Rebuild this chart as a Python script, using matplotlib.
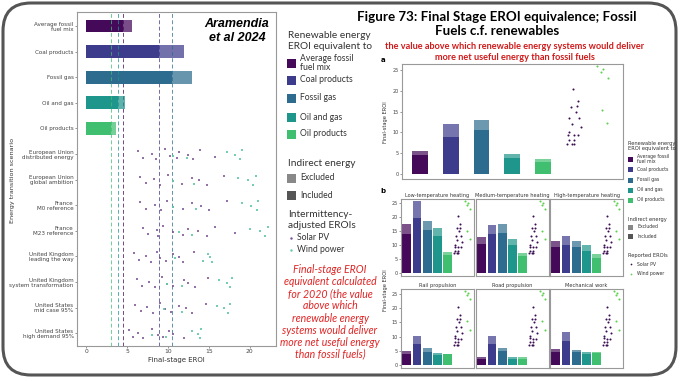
import numpy as np
import matplotlib
matplotlib.use("Agg")
from matplotlib import pyplot as plt
from matplotlib.patches import FancyBboxPatch, Rectangle

W, H = 680, 381

# fossil fuel final-stage EROI (indirect energy included / excluded)
fuels = ["Average fossil\nfuel mix", "Coal products", "Fossil gas", "Oil and gas", "Oil products"]
fuel_colors = ["#45095a", "#3d3b8c", "#2e6c8f", "#1f968b", "#3fbf6f"]
incl = [4.5, 8.9, 10.5, 3.9, 3.0]
excl = [5.6, 12.0, 13.0, 4.8, 3.7]

scenarios = ["European Union\ndistributed energy", "European Union\nglobal ambition",
             "France\nM0 reference", "France\nM23 reference",
             "United Kingdom\nleading the way", "United Kingdom\nsystem transformation",
             "United States\nmid case 95%", "United States\nhigh demand 95%"]
solar_scen = [
    [6.4, 7.0, 8.0, 8.6, 9.6, 10.2, 11.1, 11.3, 12.5, 13.1, 13.9, 15.7],
    [6.6, 7.3, 8.3, 9.0, 10.0, 10.6, 11.7, 13.0, 13.8, 14.8, 16.8],
    [6.6, 7.3, 8.4, 9.1, 9.9, 10.6, 11.8, 13.0, 14.1, 15.0, 17.2],
    [7.0, 7.6, 8.7, 8.8, 9.4, 10.6, 11.8, 12.4, 13.7, 14.8, 15.7, 18.2],
    [5.9, 6.5, 7.3, 7.9, 8.7, 9.0, 9.8, 10.6, 11.3, 11.8, 13.2],
    [6.2, 6.8, 7.7, 8.4, 9.3, 9.9, 10.6, 12.0, 12.4, 13.3, 14.9],
    [6.0, 6.7, 7.4, 8.2, 9.0, 9.6, 10.4, 11.3, 12.2, 12.9, 14.6],
    [5.2, 5.7, 6.3, 7.0, 8.0, 8.8, 9.4, 10.1, 10.6, 12.0],
]
wind_scen = [
    [10.6, 12.3, 17.2, 18.2, 18.8, 19.0],
    [10.6, 13.2, 18.6, 19.8, 20.4, 20.7],
    [10.6, 13.4, 19.0, 20.2, 20.9, 21.0],
    [11.3, 12.9, 20.0, 21.3, 21.9, 22.2],
    [10.9, 14.3, 14.9, 15.2, 15.4],
    [9.9, 11.7, 16.3, 17.2, 17.6, 17.8],
    [9.5, 11.7, 16.0, 16.8, 17.3, 17.6],
    [8.1, 9.8, 13.0, 13.7, 13.9, 14.1],
]

# end-use panels
end_uses = ["Low-temperature heating", "Medium-temperature heating", "High-temperature heating",
            "Rail propulsion", "Road propulsion", "Mechanical work"]
b_incl = [[14.2, 19.8, 15.6, 13.4, 6.5], [10.6, 14.1, 14.4, 10.0, 6.1], [9.4, 10.0, 9.4, 8.2, 5.6],
          [4.0, 7.5, 4.7, 3.5, 4.0], [2.3, 7.6, 5.0, 2.2, 2.4], [4.8, 8.6, 4.7, 4.0, 4.2]]
b_excl = [[17.5, 26.0, 18.8, 16.1, 7.6], [13.0, 17.4, 17.7, 12.2, 7.3], [11.7, 13.5, 11.5, 10.0, 6.8],
          [5.0, 10.2, 5.9, 4.3, 4.1], [2.8, 10.2, 6.2, 2.8, 2.8], [5.7, 11.6, 5.4, 4.6, 4.5]]

# reported EROIs
solar_rep = [20.4, 17.6, 16.3, 16.2, 15.0, 13.5, 13.4, 12.1, 11.3, 10.2, 9.4, 9.3, 9.3, 8.1, 8.1, 7.2, 7.2, 7.2]
solar_dx = [-0.02, 0.13, 0.10, -0.07, 0.07, -0.14, 0.17, -0.06, 0.24, -0.16, -0.18, 0.02, 0.15, -0.16, 0.02, -0.22, -0.05, 0.0]
wind_rep = [25.8, 25.2, 24.4, 23.0, 15.3, 12.3]
wind_dx = [-0.23, -0.05, -0.1, 0.13, -0.06, 0.1]

jit = [-0.12, 0.14, -0.02, 0.2, -0.18, 0.06, 0.16, -0.08, 0.02, 0.2, -0.16, 0.1]

fig = plt.figure(figsize=(W/100, H/100), dpi=100)
fig.patch.set_facecolor("white")

def px_axes(x0, y0, x1, y1):
    return fig.add_axes([x0/W, 1-y1/H, (x1-x0)/W, (y1-y0)/H])

def style(ax, fs=3.5):
    for s in ax.spines.values():
        s.set_color("#999999")
        s.set_linewidth(0.8)
    ax.tick_params(labelsize=fs, length=1.5, width=0.4, pad=1, colors="#444444")

# ---------------- left chart
ax = px_axes(77, 12, 276, 346)
style(ax, 4.3)
nf = len(fuels)
yf = np.arange(nf)
for i in range(nf):
    ax.barh(yf[i], excl[i], height=0.5, color=fuel_colors[i], alpha=0.72, lw=0)
    ax.barh(yf[i], incl[i], height=0.5, color=fuel_colors[i], lw=0)
    ax.axvline(incl[i], color=fuel_colors[i], lw=0.7, ls=(0, (4, 2.5)), alpha=0.75, zorder=1)
for k in range(len(scenarios)):
    yc = nf + k
    sv = solar_scen[k]
    wv = wind_scen[k]
    ax.scatter(sv, [yc + jit[j % len(jit)] for j in range(len(sv))], s=2.5, marker="s",
               color="#7a4e90", alpha=0.8, lw=0, zorder=3)
    ax.scatter(wv, [yc + jit[(j + 5) % len(jit)] for j in range(len(wv))], s=2.5, marker="s",
               color="#64caa6", alpha=0.9, lw=0, zorder=3)
ax.set_yticks(np.arange(nf + len(scenarios)))
ax.set_yticklabels(fuels + scenarios, fontsize=4.1, linespacing=1.0)
ax.set_xticks([0, 5, 10, 15, 20])
ax.set_xlim(-1.1, 23.2)
ax.set_ylim(12.5, -0.55)
ax.set_xlabel("Final-stage EROI", fontsize=5, labelpad=1.5, color="#333333")

# ---------------- panel a
def draw_panel(ax, inc, exc, bw, spread):
    for i in range(len(inc)):
        ax.bar(i, exc[i], width=bw, color=fuel_colors[i], alpha=0.7, lw=0)
        ax.bar(i, inc[i], width=bw, color=fuel_colors[i], lw=0)
    ax.scatter([5 + d * spread for d in solar_dx], solar_rep, s=2.2, color="#3a0f52", lw=0, zorder=3)
    ax.scatter([6 + d * spread for d in wind_dx], wind_rep, s=2.2, color="#5fd04f", lw=0, zorder=3)
    ax.set_xticks([])

axa = px_axes(402, 64, 623, 179)
style(axa)
draw_panel(axa, incl, excl, 0.51, 1.0)
axa.set_xlim(-0.59, 6.61)
axa.set_ylim(-1.2, 26.4)
axa.set_yticks([0, 5, 10, 15, 20, 25])

cols = [(401, 474), (476, 549), (550, 623)]
rows = [(199, 276), (289, 368)]
for n in range(6):
    r, c = divmod(n, 3)
    axb = px_axes(cols[c][0], rows[r][0], cols[c][1], rows[r][1])
    style(axb)
    draw_panel(axb, b_incl[n], b_excl[n], 0.86, 1.6)
    axb.set_xlim(-0.55, 6.55)
    axb.set_ylim(-0.9, 26.6)
    axb.set_yticks([0, 5, 10, 15, 20, 25])
    if c > 0:
        axb.set_yticklabels([])
        axb.tick_params(left=False)
    axb.set_title(end_uses[n], fontsize=3.6, pad=1.5, color="#333333")

# ---------------- overlay: frame, titles, legends, notes
ov = fig.add_axes([0, 0, 1, 1], facecolor="none")
ov.set_xlim(0, W)
ov.set_ylim(H, 0)
ov.axis("off")
ov.add_patch(FancyBboxPatch((3, 3), 673, 372, boxstyle="round,pad=0,rounding_size=28",
                            fc="none", ec="#555555", lw=2.2))

ov.text(13, 180, "Energy transition scenario", rotation=90, fontsize=4.6, ha="center", va="center", color="#333333")
ov.text(237, 31, "Aramendia\net al 2024", fontsize=9, fontweight="bold", style="italic",
        ha="center", va="center", linespacing=1.25, family="Liberation Sans")

ov.text(497, 24, "Figure 73: Final Stage EROI equivalence; Fossil\nFuels c.f. renewables", fontsize=9.6,
        fontweight="bold", ha="center", va="center", family="Lato", linespacing=1.2)
ov.text(515, 52, "the value above which renewable energy systems would deliver\nmore net useful energy than fossil fuels",
        fontsize=6.6, fontweight="bold", ha="center", va="center", color="#d11a1a", family="Lato", linespacing=1.25)

# middle legend
lf = "Lato"
ov.text(288, 41, "Renewable energy\nEROI equivalent to", fontsize=7.3, va="center", family=lf, color="#333333", linespacing=1.15)
leg_y = [63, 80, 98, 117, 134]
for i in range(nf):
    ov.add_patch(Rectangle((287, leg_y[i] - 4.5), 9, 9, color=fuel_colors[i], lw=0))
    ov.text(300, leg_y[i], fuels[i], fontsize=6.2, va="center", family=lf, color="#333333", linespacing=1.0)
ov.text(288, 163, "Indirect energy", fontsize=7.3, va="center", family=lf, color="#333333")
for yy, lab, colr in [(178, "Excluded", "#888888"), (195, "Included", "#555555")]:
    ov.add_patch(Rectangle((287, yy - 4.5), 9, 9, color=colr, lw=0))
    ov.text(300, yy, lab, fontsize=6.2, va="center", family=lf, color="#333333")
ov.text(288, 220, "Intermittency-\nadjusted EROIs", fontsize=7.3, va="center", family=lf, color="#333333", linespacing=1.15)
for yy, lab, colr in [(238, "Solar PV", "#7a4e90"), (250, "Wind power", "#64caa6")]:
    ov.scatter([291], [yy], s=3, color=colr, lw=0)
    ov.text(297, yy, lab, fontsize=6.2, va="center", family=lf, color="#333333")
ov.text(330, 312, "Final-stage EROI\nequivalent calculated\nfor 2020 (the value\nabove which\nrenewable energy\nsystems would deliver\nmore net useful energy\nthan fossil fuels)",
        fontsize=7.6, style="italic", ha="center", va="center", color="#e02424", family=lf, linespacing=1.12)

# right legend
rf = 3.7
ov.text(628, 146, "Renewable energy\nEROI equivalent to", fontsize=rf, va="center", color="#333333", linespacing=1.2)
rl_y = [159, 169, 180, 190, 200]
for i in range(nf):
    ov.add_patch(Rectangle((628, rl_y[i] - 2.5), 5, 5, color=fuel_colors[i], lw=0))
    ov.text(637, rl_y[i], fuels[i], fontsize=3.3, va="center", color="#333333", linespacing=1.0)
ov.text(628, 219, "Indirect energy", fontsize=rf, va="center", color="#333333")
for yy, lab, colr in [(227, "Excluded", "#888888"), (236, "Included", "#555555")]:
    ov.add_patch(Rectangle((628, yy - 2.5), 5, 5, color=colr, lw=0))
    ov.text(637, yy, lab, fontsize=3.3, va="center", color="#333333")
ov.text(628, 256, "Reported EROIs", fontsize=rf, va="center", color="#333333")
for yy, lab, colr in [(264, "Solar PV", "#3a0f52"), (274, "Wind power", "#5fd04f")]:
    ov.scatter([630.5], [yy], s=1.5, color=colr, lw=0)
    ov.text(637, yy, lab, fontsize=3.3, va="center", color="#333333")

ov.text(383, 60, "a", fontsize=5, fontweight="bold", ha="center", va="center")
ov.text(383, 191, "b", fontsize=5, fontweight="bold", ha="center", va="center")
ov.text(385, 122, "Final-stage EROI", fontsize=3.7, rotation=90, ha="center", va="center", color="#333333")
ov.text(385, 290, "Final-stage EROI", fontsize=3.7, rotation=90, ha="center", va="center", color="#333333")

fig.savefig("out.png", dpi=100)
